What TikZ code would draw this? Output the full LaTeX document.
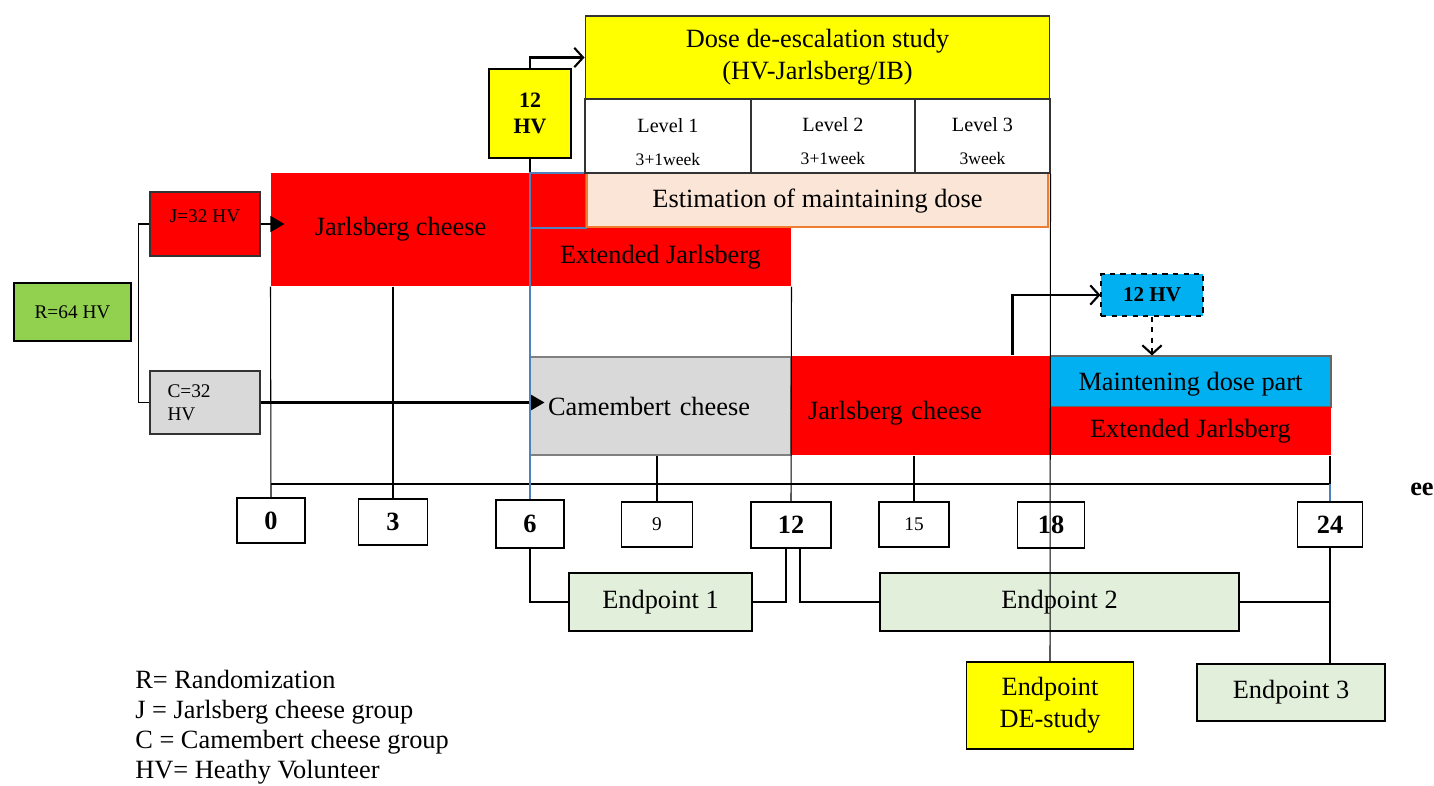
\documentclass[tikz,border=0pt]{standalone}
\usepackage{fontspec}
\setmainfont{Liberation Serif}
\usetikzlibrary{arrows.meta}

\definecolor{jyellow}{HTML}{FFFF00}
\definecolor{jred}{HTML}{FF0000}
\definecolor{jgreen}{HTML}{92D050}
\definecolor{jgrey}{HTML}{D9D9D9}
\definecolor{jblue}{HTML}{00B0F0}
\definecolor{jpeach}{HTML}{FBE5D6}
\definecolor{jorange}{HTML}{ED7D31}
\definecolor{jmint}{HTML}{E2EFDA}
\definecolor{jline}{HTML}{4F81BD}

\newcommand{\bigtxt}{\fontsize{15}{18}\selectfont}
\newcommand{\midtxt}{\fontsize{11.5}{14}\selectfont}
\newcommand{\weektxt}{\fontsize{10}{12}\selectfont}
\newcommand{\grptxt}{\fontsize{11}{13}\selectfont}

\tikzset{
  box/.style={draw=black!80, line width=0.6pt, inner sep=0pt, align=center, font=\bigtxt},
  thickbox/.style={box, draw=black, line width=1.1pt},
  redbox/.style={box, draw=none, fill=jred},
  levelbox/.style={box, fill=white, font=\midtxt, minimum height=1.48cm},
  weekbox/.style={thickbox, fill=white, font=\bfseries\fontsize{15}{17}\selectfont},
  weekbox light/.style={thickbox, fill=white, font=\grptxt},
  endbox/.style={thickbox, fill=jmint, minimum height=1.16cm},
  thin/.style={draw=black, line width=0.6pt},
  blueline/.style={draw=jline, line width=0.8pt},
  openarrow/.style={line width=1.2pt, -{Straight Barb[length=5pt,width=11pt]}},
  fullarrow/.style={line width=1.2pt, -{Triangle[length=8pt,width=9pt]}}
}

\begin{document}
\begin{tikzpicture}[x=0.02cm, y=-0.02cm]

    % Page frame
    \useasboundingbox (0,0) rectangle (1434,785);

    % Jarlsberg arm, first period
    \node[redbox, minimum width=5.18cm, minimum height=2.26cm] (jarl1) at (400.5,229.5) {Jarlsberg cheese};
    \node[redbox, minimum width=5.22cm, minimum height=1.16cm] (ext1) at (660.5,257) {Extended Jarlsberg};
    \node[box, draw=jline, fill=jred, minimum width=1.12cm, minimum height=1.1cm] (extcap) at (558,200.5) {};
    \node[box, draw=jorange, line width=1.3pt, fill=jpeach, minimum width=9.22cm, minimum height=1.08cm] (estim) at (817.5,200) {\raisebox{-4.5pt}[0pt][0pt]{Estimation of maintaining dose}};

    % Dose de-escalation study
    \node[box, fill=jyellow, minimum width=9.3cm, minimum height=1.66cm] (dose) at (817.5,57.5) {Dose de-escalation study\\(HV-Jarlsberg/IB)};
    \node[levelbox, minimum width=3.32cm] (lvl1) at (668,136) {\rule{0pt}{15pt}Level 1\\[5pt]{\weektxt 3+1week}};
    \node[levelbox, minimum width=3.28cm] (lvl2) at (833,136) {\rule{0pt}{14pt}Level 2\\[5pt]{\weektxt 3+1week}};
    \node[levelbox, minimum width=2.7cm] (lvl3) at (982.5,136) {\rule{0pt}{14pt}Level 3\\[5pt]{\weektxt 3week}};
    \node[thickbox, fill=jyellow, minimum width=1.64cm, minimum height=1.78cm, font=\bfseries\fontsize{12.5}{15}\selectfont] (hv12) at (530,113.5) {12\\HV};

    % Randomization and groups
    \node[thickbox, fill=jgreen, minimum width=2.34cm, minimum height=1.16cm, font=\grptxt] (rand) at (72.5,312) {R=64 HV};
    \node[thickbox, draw=black!80, fill=jred, minimum width=2.2cm, minimum height=1.28cm, font=\grptxt] (jgrp) at (205,224) {\raisebox{1pt}[0pt][0pt]{J=32 HV}};
    \node[thickbox, draw=black!80, fill=jgrey, minimum width=2.2cm, minimum height=1.26cm, font=\grptxt, text width=1.5cm, align=left] (cgrp) at (205,402.5) {C=32\\HV};

    % Camembert arm
    \node[box, draw=black!50, fill=jgrey, minimum width=5.22cm, minimum height=1.96cm, text width=4.5cm, align=left] (camem) at (660.5,406) {Camembert cheese};
    \node[redbox, minimum width=5.18cm, minimum height=1.98cm, text width=4.5cm, align=left] (jarl2) at (920.5,405.5) {\raisebox{-8pt}[0pt][0pt]{Jarlsberg cheese}};
    \node[box, draw=black!60, fill=jblue, minimum width=5.62cm, minimum height=1.02cm] (maint) at (1190.5,381.5) {\raisebox{-5pt}[0pt][0pt]{Maintening dose part}};
    \node[redbox, minimum width=5.62cm, minimum height=0.96cm] (ext2) at (1190.5,431) {Extended Jarlsberg};
    \node[box, draw=black, dashed, fill=jblue, minimum width=2.04cm, minimum height=0.84cm, font=\bfseries\fontsize{12}{14}\selectfont] (hv12b) at (1152,295) {12 HV};

    % Week markers
    \node[weekbox, minimum width=1.36cm, minimum height=0.9cm] (t0) at (271,520.5) {0};
    \node[weekbox, minimum width=1.38cm, minimum height=0.92cm] (t3) at (393,522) {3};
    \node[weekbox, minimum width=1.36cm, minimum height=0.96cm] (t6) at (530,524) {6};
    \node[weekbox light, minimum width=1.42cm, minimum height=0.9cm] (t9) at (657,524.5) {9};
    \node[weekbox, minimum width=1.6cm, minimum height=0.92cm] (t12) at (791,525) {12};
    \node[weekbox light, minimum width=1.4cm, minimum height=0.9cm] (t15) at (914,524.5) {15};
    \node[weekbox, minimum width=1.34cm, minimum height=0.92cm] (t18) at (1051,525) {18};
    \node[weekbox, minimum width=1.3cm, minimum height=0.9cm] (t24) at (1330,524.5) {24};
    \node[font=\bfseries\bigtxt, anchor=east, inner sep=0pt] (cut) at (1434,489) {ee};

    % Endpoints
    \node[endbox, minimum width=3.66cm] (ep1) at (660.5,602) {Endpoint 1};
    \node[endbox, minimum width=7.18cm] (ep2) at (1059.5,602) {Endpoint 2};
    \node[thickbox, fill=jyellow, minimum width=3.34cm, minimum height=1.74cm] (epde) at (1050,705.5) {Endpoint\\DE-study};
    \node[endbox, minimum width=3.76cm, minimum height=1.14cm] (ep3) at (1291,692.5) {Endpoint 3};

    % Legend
    \node[anchor=west, align=left, inner sep=0pt, font=\fontsize{15}{17}\selectfont] (legend) at (135,727) {R= Randomization\\J = Jarlsberg cheese group\\C = Camembert cheese group\\HV= Heathy Volunteer};

    % Randomization bracket and group arrows
    \draw[thin] (jgrp.west) -- ++(-11,0) |- (cgrp.west);
    \draw[fullarrow, shorten >=-0.28cm] (jgrp.east) -- (jgrp.east -| jarl1.west);
    \draw[fullarrow, shorten >=-0.3cm] (cgrp.east) -- (cgrp.east -| camem.west);

    % Study entry arrows
    \draw[openarrow] (hv12.north) |- (dose.west);
    \draw[openarrow] ([xshift=-0.76cm]jarl2.north east) |- (hv12b.west);
    \draw[openarrow, dashed] (hv12b.south) -- (hv12b.south |- maint.north);

    % Timeline
    \coordinate (tl0) at (271,484);
    \coordinate (tl24) at (1330,484);
    \draw[line width=1.3pt] (tl0) -- (tl24);

    % Ticks
    \draw[thin] (jarl1.south west) -- (t0.north);
    \draw[thin] (t3.north |- jarl1.south) -- (t3.north);
    \draw[thin] (hv12.south) -- (hv12.south |- jarl1.north);
    \draw[blueline] (t6.north |- jarl1.north) -- (t6.north);
    \draw[thin] (t9.north |- camem.south) -- (t9.north);
    \draw[thin] (ext1.south east) -- (t12.north);
    \draw[thin] (t15.north |- jarl2.south) -- (t15.north);
    \draw[thin] (lvl3.south east) -- (epde.north);
    \draw[thin] (tl24 |- ext2.south) -- (tl24);
    \draw[blueline] (tl24) -- (t24.north);

    % Endpoint links
    \draw[thin] (t6.south) |- (ep1.west);
    \draw[thin] (ep1.east) -| ([xshift=-0.1cm]t12.south);
    \draw[thin] ([xshift=0.18cm]t12.south) |- (ep2.west);
    \draw[thin] (t24.south) -- (t24.south |- ep3.north);
    \draw[thin] (ep2.east) -- (ep2.east -| t24.south);

\end{tikzpicture}
\end{document}
